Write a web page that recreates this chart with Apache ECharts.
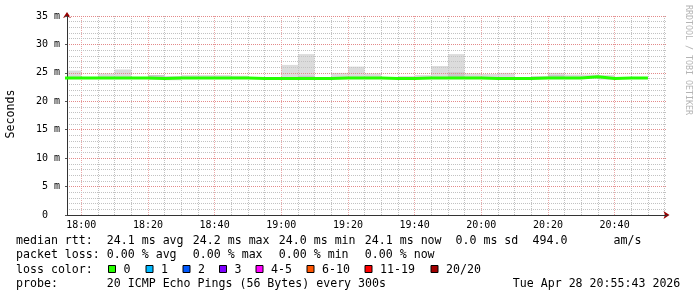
<!DOCTYPE html>
<html><head><meta charset="utf-8">
<script src="https://cdn.jsdelivr.net/npm/echarts@6/dist/echarts.min.js"></script>
<style>html,body{margin:0;padding:0;background:#fff}#c{width:697px;height:297px}</style>
</head><body><div id="c"></div>
<script>
// ---- data ----
const binStarts = ['17:55','18:00','18:05','18:10','18:15','18:20','18:25','18:30','18:35','18:40','18:45','18:50','18:55',
  '19:00','19:05','19:10','19:15','19:20','19:25','19:30','19:35','19:40','19:45','19:50','19:55',
  '20:00','20:05','20:10','20:15','20:20','20:25','20:30','20:35','20:40','20:45'];
const dataEnd = '20:50';
const plotStart = '17:55:43';
const plotEnd = '20:55:43';
const medianRtt = [24.1,24.1,24.1,24.1,24.1,24.0,24.1,24.1,24.1,24.1,24.1,24.0,24.0,
  24.0,24.0,24.0,24.1,24.1,24.1,24.0,24.0,24.1,24.1,24.1,24.1,
  24.0,24.0,24.0,24.1,24.1,24.1,24.3,24.0,24.1,24.1];
const smokeLow = [23.9,23.9,23.9,23.9,23.9,23.8,23.7,23.9,23.9,23.9,23.9,23.9,23.9,
  23.9,23.9,23.9,23.9,23.9,23.9,23.9,23.8,23.9,23.9,23.9,23.9,
  23.9,23.9,23.9,23.9,23.9,23.9,24.0,23.8,24.0,24.0];
const smokeHigh = [25.4,24.2,24.9,25.6,24.2,24.6,24.45,24.6,24.6,24.6,24.5,24.2,24.2,
  26.4,28.3,24.2,25.0,26.1,24.9,24.2,24.45,24.6,26.2,28.3,24.9,
  24.8,25.0,24.1,24.45,25.0,24.7,24.7,24.6,24.2,24.2];
const smokeCore = [24.1,24.1,24.1,24.1,24.1,24.6,24.1,24.1,24.1,24.1,24.1,24.0,24.0,
  24.0,24.5,24.0,24.1,24.1,24.1,24.0,24.0,24.1,24.1,25.1,24.1,
  24.0,24.0,24.0,24.1,24.6,24.1,24.3,24.0,24.1,24.1];
const yMax = 35, yStep = 5;
const rttLabel = 'median rtt:';
const rttStats = ['24.1 ms avg','24.2 ms max','24.0 ms min','24.1 ms now','0.0 ms sd','494.0','am/s'];
const lossLabel = 'packet loss:';
const lossStats = ['0.00 % avg','0.00 % max','0.00 % min','0.00 % now'];
const lossColorLabel = 'loss color:';
const lossColorNames = ['0','1','2','3','4-5','6-10','11-19','20/20'];
const lossColorValues = ['#26ff00','#00b8ff','#0059ff','#7e00ff','#ff00ff','#ff5500','#ff0000','#a10000'];
const probeLabel = 'probe:';
const probeText = '20 ICMP Echo Pings (56 Bytes) every 300s';
const dateText = 'Tue Apr 28 20:55:43 2026';
const yTitle = 'Seconds';
const watermark = 'RRDTOOL / TOBI OETIKER';

// ---- layout ----
const rttX = [106.8,192.8,278.8,364.8,455.5,532.5,613.5];
const lossX = [106.8,192.8,278.8,364.8];
const boxX = [108,145.5,182.5,219,255.5,306.5,364.5,430.5];
const lineY = [241, 255, 269.5, 283.5];

const toMin = s => { const p = s.split(':').map(Number); return (p[0]-18)*60 + p[1] + (p[2]||0)/60; };
const xMin = toMin(plotStart), xMax = toMin(plotEnd);
const fmtTime = v => { const t = Math.round(18*60 + v); const h = Math.floor(t/60), m = t%60; return (h<10?'0':'')+h+':'+(m<10?'0':'')+m; };
const FONT = "'DejaVu Sans Mono', monospace";
const MAJOR = '#e38a8a', MAJOR_V = '#eba8a8', MINOR = '#c2c2c2';

const smokeData = binStarts.map((t,i) => [toMin(t), toMin(i+1<binStarts.length?binStarts[i+1]:dataEnd), smokeLow[i], smokeHigh[i], medianRtt[i], smokeCore[i]]);
const lineData = binStarts.map((t,i) => [toMin(t), medianRtt[i]]);
lineData.push([toMin(dataEnd), medianRtt[medianRtt.length-1]]);

function renderSmoke(params, api) {
  const cs = params.coordSys;
  const clipR = {x: cs.x, y: cs.y, width: cs.width, height: cs.height};
  const t0 = api.value(0), t1 = api.value(1);
  const mk = (lo, hi, color) => {
    const a = api.coord([t0, hi]), b = api.coord([t1, lo]);
    const r = echarts.graphic.clipRectByRect({x: a[0], y: a[1], width: b[0]-a[0], height: b[1]-a[1]}, clipR);
    return r ? {type:'rect', shape:r, style:{fill:color}} : null;
  };
  const children = [];
  const o = mk(api.value(2), api.value(3), '#dcdcdc'); if (o) children.push(o);
  if (api.value(5) > api.value(4)) { const c = mk(api.value(4), api.value(5), '#c8c8c8'); if (c) children.push(c); }
  return {type:'group', children};
}

const graphics = [];
const txt = (x, y, s, extra) => graphics.push(Object.assign({type:'text', x, y, style:{text:s, font:'11.6px '+FONT, fill:'#000', align:'left', verticalAlign:'middle'}}, extra||{}));
txt(16, lineY[0], rttLabel); rttStats.forEach((s,i)=>txt(rttX[i], lineY[0], s));
txt(16, lineY[1], lossLabel); lossStats.forEach((s,i)=>txt(lossX[i], lineY[1], s));
txt(16, lineY[2], lossColorLabel);
lossColorNames.forEach((s,i)=>{
  graphics.push({type:'rect', shape:{x:boxX[i]+0.5, y:lineY[2]-4, width:7, height:7}, style:{fill:lossColorValues[i], stroke:'#000', lineWidth:1}});
  txt(boxX[i]+15.5, lineY[2], s);
});
txt(16, lineY[3], probeLabel); txt(106.8, lineY[3], probeText); txt(512.8, lineY[3], dateText);
graphics.push({type:'text', x:10.5, y:114, rotation:Math.PI/2, style:{text:yTitle, font:'11.6px '+FONT, fill:'#000', align:'center', verticalAlign:'middle'}});
graphics.push({type:'text', x:688, y:60, rotation:-Math.PI/2, style:{text:watermark, font:'8.3px '+FONT, fill:'#b4b4b4', align:'center', verticalAlign:'middle'}});

const chart = echarts.init(document.getElementById('c'), null, {renderer:'canvas'});
chart.setOption({
  animation: false,
  backgroundColor: '#ffffff',
  grid: {left: 67, right: 30, top: 16, bottom: 82, containLabel: false, outerBoundsMode: 'none'},
  xAxis: [
    {type:'value', position:'bottom', min:xMin, max:xMax, minInterval:20, maxInterval:20, z:4,
     axisLine:{show:true, onZero:false, lineStyle:{color:'#333', width:1}},
     axisTick:{show:false}, splitLine:{show:false},
     axisLabel:{showMinLabel:false, showMaxLabel:false, formatter:fmtTime, fontFamily:FONT, fontSize:10, color:'#000', margin:5}},
    {type:'value', position:'bottom', min:xMin, max:xMax, minInterval:5, maxInterval:5, z:2,
     axisLine:{show:true, onZero:false, symbol:['none','arrow'], symbolSize:[6,6], symbolOffset:[0,2.5], lineStyle:{color:'#990000', width:1}},
     axisTick:{show:false}, axisLabel:{show:false},
     splitLine:{show:true, showMinLine:false, showMaxLine:false, lineStyle:{color:[MAJOR_V, MINOR, MINOR, MINOR], type:[1,1], width:1}}}
  ],
  yAxis: [
    {type:'value', position:'left', min:0, max:yMax, interval:yStep, z:4,
     axisLine:{show:true, onZero:false, lineStyle:{color:'#333', width:1}},
     axisTick:{show:true, length:2, lineStyle:{color:'#555'}},
     minorTick:{show:false, splitNumber:5},
     axisLabel:{formatter: v => v === 0 ? '0\u00a0\u00a0' : v + ' m', fontFamily:FONT, fontSize:10, color:'#000', margin:7},
     splitLine:{show:true, lineStyle:{color:MAJOR, type:[1,1], width:1}},
     minorSplitLine:{show:true, lineStyle:{color:MINOR, type:[1,1], width:1}}},
    {type:'value', position:'left', min:0, max:yMax, interval:yStep, z:2,
     axisLine:{show:true, onZero:false, symbol:['none','arrow'], symbolSize:[6,6], symbolOffset:[0,4], lineStyle:{color:'#990000', width:1}},
     axisTick:{show:false}, axisLabel:{show:false}, splitLine:{show:false}}
  ],
  series: [
    {type:'custom', xAxisIndex:0, yAxisIndex:0, z:1, renderItem:renderSmoke, data:smokeData, silent:true},
    {type:'line', xAxisIndex:0, yAxisIndex:0, z:5, step:'end', data:lineData, showSymbol:false, symbol:'none', clip:true,
     lineStyle:{color:'#26ff00', width:3}, silent:true}
  ],
  graphic: graphics
});
</script>
</body></html>
